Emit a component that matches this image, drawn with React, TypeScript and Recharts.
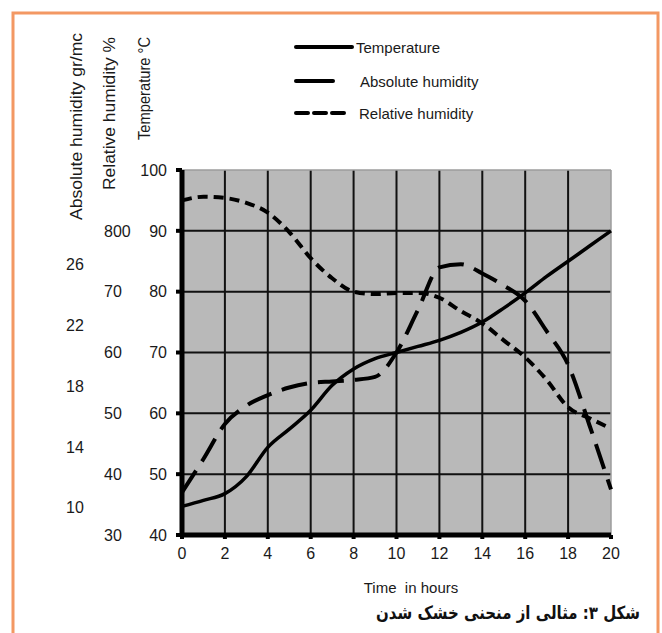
import { CartesianGrid, Line, LineChart, ReferenceLine, XAxis, YAxis } from 'recharts'

// hours of drying
const hours = [0, 1, 2, 3, 4, 5, 6, 7, 8, 9, 10, 11, 12, 13, 14, 15, 16, 17, 18, 19, 20]

// temperature in °C
const temperature = [44.7, 45.7, 46.8, 49.6, 54.4, 57.4, 60.5, 64.6, 67.3, 69, 70, 71, 72, 73.3, 75, 77.3, 79.8, 82.5, 85, 87.5, 90]

// relative humidity in %
const relativeHumidity = [85, 85.6, 85.4, 84.6, 83, 79.8, 75.5, 72.2, 70, 69.6, 69.8, 69.8, 69, 66.8, 64.8, 62, 59.2, 55.5, 51, 49.2, 47.5]

// absolute humidity in gr/mc
const absoluteHumidity = [11, 13.2, 15.5, 16.7, 17.4, 17.9, 18.2, 18.3, 18.4, 18.6, 20.2, 23, 25.8, 26, 25.4, 24.6, 23.6, 21.6, 19.4, 15.4, 11.2]

const hourTicks = [0, 2, 4, 6, 8, 10, 12, 14, 16, 18, 20]
const temperatureTicks = [40, 50, 60, 70, 80, 90, 100]
const relativeTicks = [30, 40, 50, 60, 70, 80]
const relativeTickLabels = ['30', '40', '50', '60', '70', '800']
const absoluteTicks = [10, 14, 18, 22, 26]

const seriesNames = ['Temperature', 'Absolute humidity', 'Relative humidity']
const axisTitles = ['Absolute humidity gr/mc', 'Relative humidity %', 'Temperature °C']
const xAxisTitle = 'Time  in hours'
const caption = 'شکل ۳: مثالی از منحنی خشک شدن'

const chartData = hours.map((h, i) => ({
    hour: h,
    temperature: temperature[i],
    relative: relativeHumidity[i],
    absolute: absoluteHumidity[i],
}))

const font = '"Liberation Sans", Arial, sans-serif'
const textColor = '#1a1a1a'

// axis ids sort so the temperature axis sits next to the plot
const TEMP = 'a-temp'
const RH = 'b-rh'
const AH = 'c-ah'

const RelativeTick = ({ y, payload }: any) => (
    <text x={104} y={y} dy="0.36em" fontSize={16} fill={textColor} fontFamily={font}>
        {relativeTickLabels[relativeTicks.indexOf(payload.value)]}
    </text>
)

const AbsoluteTick = ({ y, payload }: any) => (
    <text x={75} y={y} dy="0.36em" textAnchor="middle" fontSize={16} fill={textColor} fontFamily={font}>
        {payload.value}
    </text>
)

// legend sample lines, same order as seriesNames
const legendStyles = [
    { y: 47, x2: 352, textX: 356, dash: undefined },
    { y: 81, x2: 333, textX: 360, dash: undefined },
    { y: 113, x2: 349, textX: 359, dash: '12 6' },
]

// rotated axis titles: centre x, bottom y, length
const titleStyles = [
    { x: 76, y: 220, len: 187 },
    { x: 109, y: 190, len: 153 },
    { x: 144, y: 140, len: 103 },
]

const App = () => {
    return (
        <div style={{ position: 'absolute', left: 0, top: 0, width: 662, height: 633, background: '#fff', overflow: 'hidden' }}>
            <LineChart
                width={662}
                height={633}
                data={chartData}
                margin={{ top: 170, right: 51, bottom: 58, left: 50 }}
                style={{ fontFamily: font }}
            >
                <CartesianGrid
                    yAxisId={TEMP}
                    fill="#b9b9b9"
                    fillOpacity={1}
                    stroke="#111"
                    strokeWidth={2}
                    horizontalValues={temperatureTicks.filter(v => v !== 40 && v !== 100)}
                    verticalValues={hourTicks.filter(v => v !== 0 && v !== 20)}
                />
                <ReferenceLine yAxisId={TEMP} y={100} stroke="#9c9c9c" strokeWidth={1.5} />
                <ReferenceLine yAxisId={TEMP} x={20} stroke="#9c9c9c" strokeWidth={1.5} />

                <Line yAxisId={TEMP} type="monotone" dataKey="temperature" name={seriesNames[0]}
                    stroke="#000" strokeWidth={3.5} dot={false} isAnimationActive={false} />
                <Line yAxisId={AH} type="monotone" dataKey="absolute" name={seriesNames[1]}
                    stroke="#000" strokeWidth={4} strokeDasharray="26 11" dot={false} isAnimationActive={false} />
                <Line yAxisId={RH} type="monotone" dataKey="relative" name={seriesNames[2]}
                    stroke="#000" strokeWidth={4} strokeDasharray="10 6" dot={false} isAnimationActive={false} />

                <XAxis
                    dataKey="hour"
                    type="number"
                    domain={[0, 20]}
                    ticks={hourTicks}
                    height={40}
                    stroke="#000"
                    strokeWidth={5}
                    axisLine={{ stroke: '#000', strokeWidth: 5 }}
                    tickLine={{ stroke: '#000', strokeWidth: 4 }}
                    tickSize={4}
                    tickMargin={9}
                    tick={{ fontSize: 16, fill: textColor, stroke: 'none' }}
                />
                <YAxis
                    yAxisId={TEMP}
                    type="number"
                    domain={[40, 100]}
                    ticks={temperatureTicks}
                    width={47}
                    stroke="#000"
                    strokeWidth={5}
                    axisLine={{ stroke: '#000', strokeWidth: 5 }}
                    tickLine={{ stroke: '#000', strokeWidth: 4 }}
                    tickSize={6}
                    tickMargin={9}
                    tick={{ fontSize: 16, fill: textColor, stroke: 'none' }}
                />
                <YAxis
                    yAxisId={RH}
                    type="number"
                    domain={[30, 90]}
                    ticks={relativeTicks}
                    width={40}
                    axisLine={false}
                    tickLine={false}
                    tick={<RelativeTick />}
                />
                <YAxis
                    yAxisId={AH}
                    type="number"
                    domain={[8.2, 32.2]}
                    ticks={absoluteTicks}
                    width={45}
                    axisLine={false}
                    tickLine={false}
                    tick={<AbsoluteTick />}
                />
            </LineChart>

            <svg width={662} height={633} style={{ position: 'absolute', left: 0, top: 0, pointerEvents: 'none' }}>
                <rect x={13} y={13} width={645} height={640} fill="none" stroke="#f39863" strokeWidth={3} />

                {axisTitles.map((t, i) => (
                    <text
                        key={t}
                        transform={`translate(${titleStyles[i].x},${titleStyles[i].y}) rotate(-90)`}
                        dominantBaseline="central"
                        fontSize={16}
                        fontFamily={font}
                        fill={textColor}
                        textLength={titleStyles[i].len}
                        lengthAdjust="spacingAndGlyphs"
                    >
                        {t}
                    </text>
                ))}

                {seriesNames.map((name, i) => (
                    <g key={name}>
                        <line x1={296} x2={legendStyles[i].x2} y1={legendStyles[i].y} y2={legendStyles[i].y}
                            stroke="#000" strokeWidth={4} strokeDasharray={legendStyles[i].dash} strokeLinecap="round" />
                        <text x={legendStyles[i].textX} y={legendStyles[i].y} dominantBaseline="central"
                            fontSize={15} fontFamily={font} fill={textColor}>
                            {name}
                        </text>
                    </g>
                ))}

                <text x={411} y={587} textAnchor="middle" dominantBaseline="central" fontSize={15}
                    fontFamily={font} fill={textColor} style={{ whiteSpace: 'pre' }}>
                    {xAxisTitle}
                </text>

                <text x={640} y={619} textAnchor="end" fontSize={18} fontWeight="bold"
                    fontFamily='"DejaVu Sans", sans-serif' fill="#111"
                    textLength={264} lengthAdjust="spacingAndGlyphs">
                    {caption}
                </text>
            </svg>
        </div>
    )
}

export default App
